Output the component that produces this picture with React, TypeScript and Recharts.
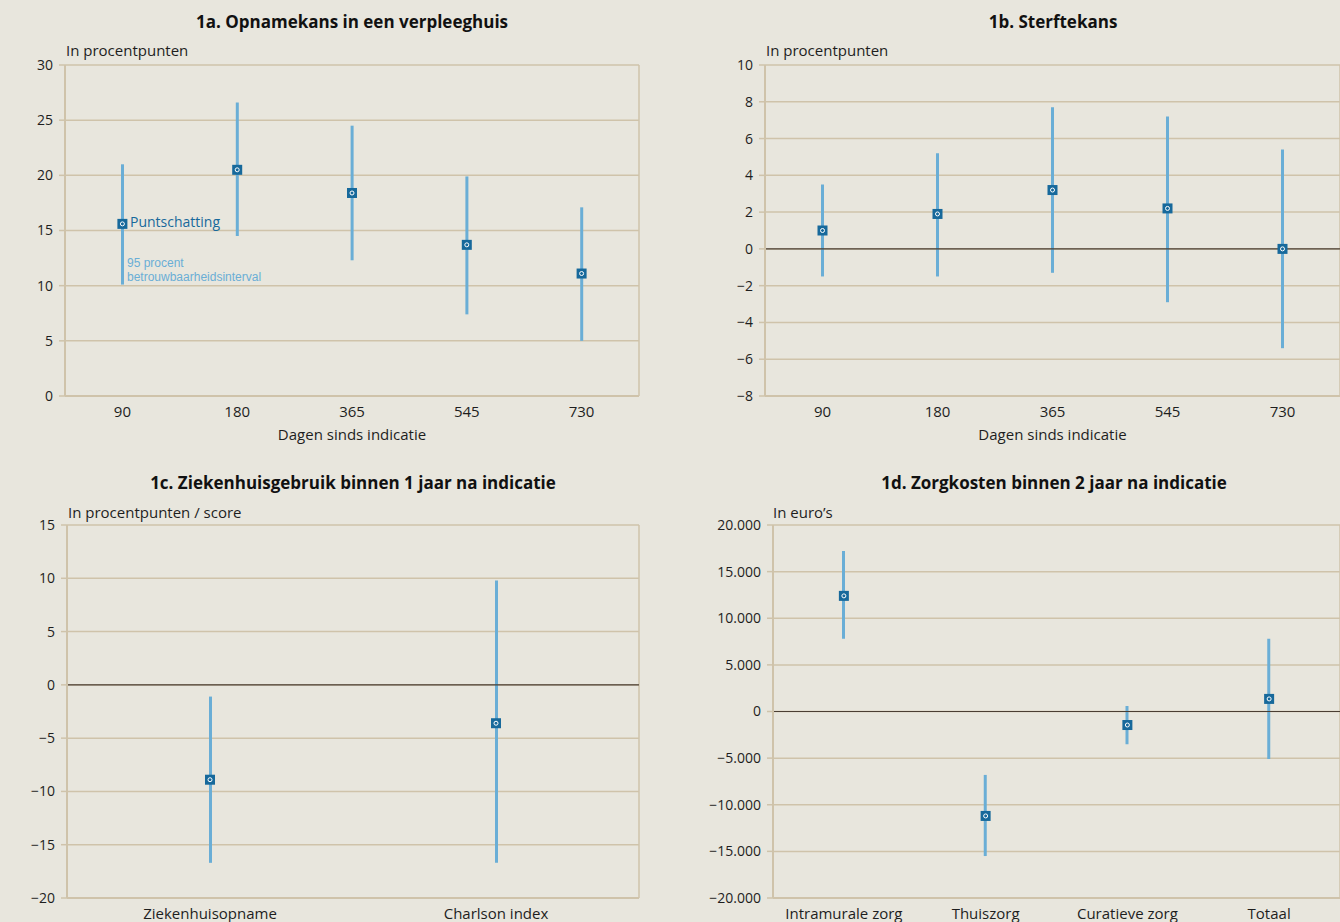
import React from 'react';
import { ComposedChart, Bar, Line, XAxis, YAxis, CartesianGrid, ReferenceLine } from 'recharts';

// 1a / 1b categories
const days = ['90', '180', '365', '545', '730'];

// 1a. Opnamekans in een verpleeghuis
const admitPoint = [15.6, 20.5, 18.4, 13.7, 11.1];
const admitLow = [10.1, 14.5, 12.3, 7.4, 5.0];
const admitHigh = [21.0, 26.6, 24.5, 19.9, 17.1];

// 1b. Sterftekans
const deathPoint = [1.0, 1.9, 3.2, 2.2, 0.0];
const deathLow = [-1.5, -1.5, -1.3, -2.9, -5.4];
const deathHigh = [3.5, 5.2, 7.7, 7.2, 5.4];

// 1c. Ziekenhuisgebruik
const hospCats = ['Ziekenhuisopname', 'Charlson index'];
const hospPoint = [-8.9, -3.6];
const hospLow = [-16.7, -16.7];
const hospHigh = [-1.1, 9.8];

// 1d. Zorgkosten
const costCats = ['Intramurale zorg', 'Thuiszorg', 'Curatieve zorg', 'Totaal'];
const costPoint = [12400, -11200, -1450, 1350];
const costLow = [7800, -15500, -3500, -5100];
const costHigh = [17200, -6800, 600, 7800];

const ticksA = [0, 5, 10, 15, 20, 25, 30];
const ticksB = [-8, -6, -4, -2, 0, 2, 4, 6, 8, 10];
const ticksC = [-20, -15, -10, -5, 0, 5, 10, 15];
const ticksD = [-20000, -15000, -10000, -5000, 0, 5000, 10000, 15000, 20000];

const BG = '#e8e6dd';
const GRID = '#cfc3aa';
const BAR = '#6aaed6';
const DOT = '#17699b';
const TEXT = '#1e1e1e';
const FONT = '"Open Sans", sans-serif';

const build = (cats: string[], point: number[], low: number[], high: number[]) =>
  cats.map((c, i) => ({ cat: c, point: point[i], range: [low[i], high[i]] }));

const minus = (v: number) => (v < 0 ? '\u2212' + Math.abs(v) : String(v));
const euro = (v: number) =>
  (v < 0 ? '\u2212' : '') + String(Math.abs(v)).replace(/\B(?=(\d{3})+(?!\d))/g, '.');

const Marker = (props: any) => {
  const { cx, cy, index } = props;
  if (cx == null || cy == null) return <g key={index} />;
  return (
    <g key={index}>
      <rect x={cx - 5} y={cy - 5} width={10} height={10} fill={DOT} />
      <circle cx={cx} cy={cy} r={2} fill="none" stroke="#ffffff" strokeWidth={1} />
    </g>
  );
};

interface PanelProps {
  left: number;
  top: number;
  width: number;
  height: number;
  yWidth: number;
  xHeight: number;
  right: number;
  data: any[];
  domain: [number, number];
  ticks: number[];
  fmt: (v: number) => string;
  zero?: boolean;
  xLabel?: string;
}

function Panel({ left, top, width, height, yWidth, xHeight, right, data, domain, ticks, fmt, zero, xLabel }: PanelProps) {
  return (
    <div style={{ position: 'absolute', left, top }}>
      <ComposedChart width={width} height={height} data={data} margin={{ top: 65, right, bottom: 0, left: 0 }}>
        <CartesianGrid
          stroke={GRID}
          strokeWidth={1.5}
          verticalCoordinatesGenerator={({ offset }: any) => [offset.left, offset.left + offset.width]}
        />
        <XAxis
          dataKey="cat"
          height={xHeight}
          axisLine={{ stroke: GRID, strokeWidth: 2 }}
          tickLine={false}
          tick={{ fill: TEXT, fontSize: 15, fontFamily: FONT }}
          tickMargin={4}
          label={
            xLabel
              ? { value: xLabel, position: 'insideBottom', offset: 10, fill: TEXT, fontSize: 15, fontFamily: FONT }
              : undefined
          }
        />
        <YAxis
          width={yWidth}
          domain={domain}
          ticks={ticks}
          interval={0}
          allowDataOverflow
          tickFormatter={fmt}
          axisLine={{ stroke: GRID, strokeWidth: 2 }}
          tickLine={{ stroke: GRID, strokeWidth: 1.5 }}
          tickSize={6}
          tickMargin={6}
          tick={{ fill: TEXT, fontSize: 14, fontFamily: FONT }}
        />
        {zero && <ReferenceLine y={0} stroke="#4a3e33" strokeWidth={1.2} />}
        <Bar dataKey="range" barSize={3} fill={BAR} isAnimationActive={false} />
        <Line
          dataKey="point"
          stroke="none"
          dot={Marker}
          activeDot={false}
          legendType="none"
          isAnimationActive={false}
        />
      </ComposedChart>
    </div>
  );
}

const titleStyle: React.CSSProperties = {
  position: 'absolute',
  fontFamily: FONT,
  fontWeight: 700,
  fontSize: 17,
  color: '#111',
  transform: 'translateX(-50%)',
  whiteSpace: 'nowrap',
  lineHeight: '20px',
};

const unitStyle: React.CSSProperties = {
  position: 'absolute',
  fontFamily: FONT,
  fontSize: 15,
  color: TEXT,
  whiteSpace: 'nowrap',
  lineHeight: '18px',
};

const noteStyle: React.CSSProperties = {
  position: 'absolute',
  fontFamily: '"Liberation Sans", sans-serif',
  fontSize: 12,
  color: BAR,
  whiteSpace: 'nowrap',
  lineHeight: '14px',
};

export default function App() {
  return (
    <div style={{ position: 'absolute', left: 0, top: 0, width: 1340, height: 922, background: BG, overflow: 'hidden' }}>
      <Panel
        left={0}
        top={0}
        width={660}
        height={450}
        yWidth={65}
        xHeight={54}
        right={21}
        data={build(days, admitPoint, admitLow, admitHigh)}
        domain={[0, 30]}
        ticks={ticksA}
        fmt={minus}
        xLabel="Dagen sinds indicatie"
      />
      <Panel
        left={680}
        top={0}
        width={660}
        height={450}
        yWidth={85}
        xHeight={54}
        right={0}
        data={build(days, deathPoint, deathLow, deathHigh)}
        domain={[-8, 10]}
        ticks={ticksB}
        fmt={minus}
        zero
        xLabel="Dagen sinds indicatie"
      />
      <Panel
        left={0}
        top={460}
        width={660}
        height={462}
        yWidth={67}
        xHeight={24}
        right={21}
        data={build(hospCats, hospPoint, hospLow, hospHigh)}
        domain={[-20, 15]}
        ticks={ticksC}
        fmt={minus}
        zero
      />
      <Panel
        left={680}
        top={460}
        width={660}
        height={462}
        yWidth={93}
        xHeight={24}
        right={0}
        data={build(costCats, costPoint, costLow, costHigh)}
        domain={[-20000, 20000]}
        ticks={ticksD}
        fmt={euro}
        zero
      />

      <div style={{ ...titleStyle, left: 352, top: 12 }}>1a. Opnamekans in een verpleeghuis</div>
      <div style={{ ...titleStyle, left: 1053, top: 12 }}>1b. Sterftekans</div>
      <div style={{ ...titleStyle, left: 353, top: 473 }}>1c. Ziekenhuisgebruik binnen 1 jaar na indicatie</div>
      <div style={{ ...titleStyle, left: 1054, top: 473 }}>1d. Zorgkosten binnen 2 jaar na indicatie</div>

      <div style={{ ...unitStyle, left: 66, top: 41 }}>In procentpunten</div>
      <div style={{ ...unitStyle, left: 766, top: 41 }}>In procentpunten</div>
      <div style={{ ...unitStyle, left: 68, top: 503 }}>In procentpunten / score</div>
      <div style={{ ...unitStyle, left: 773, top: 503 }}>In euro’s</div>

      <div style={{ ...unitStyle, left: 130, top: 213, fontSize: 14, color: DOT }}>Puntschatting</div>
      <div style={{ ...noteStyle, left: 127, top: 256 }}>95 procent</div>
      <div style={{ ...noteStyle, left: 127, top: 270 }}>betrouwbaarheidsinterval</div>
    </div>
  );
}
